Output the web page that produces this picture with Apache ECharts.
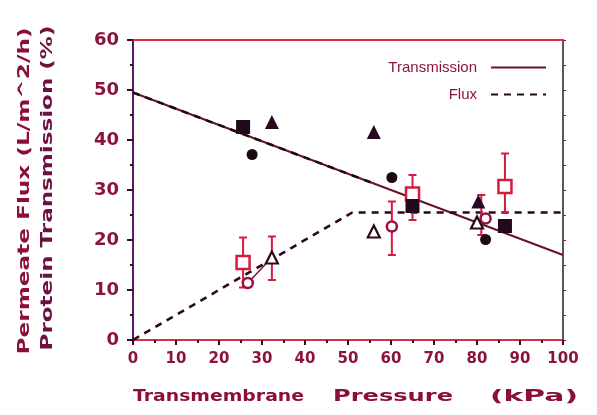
<!DOCTYPE html>
<html><head><meta charset="utf-8">
<script src="https://cdn.jsdelivr.net/npm/echarts@6/dist/echarts.min.js"></script>
<style>html,body{margin:0;padding:0;background:#fff}#c{width:597px;height:415px}</style>
</head><body><div id="c"></div>
<script>
// ---- data ----
const xTicks = [0, 10, 20, 30, 40, 50, 60, 70, 80, 90, 100];
const yTicks = [0, 10, 20, 30, 40, 50, 60];
const transLine = [[0, 49.5], [100, 17]];
const transOverlay = [[0, 49.5], [56, 31.3]];
const fluxLine = [[0, 0], [51, 25.5], [100, 25.5]];
const fluxLink = [[26.7, 11.4], [32.3, 16.5]];
const transSquares = [[25.6, 42.6], [65, 26.8], [86.5, 22.8]];
const transCircles = [[27.7, 37.1], [60.2, 32.5], [82, 20.1]];
const transTriangles = [[32.3, 43.6], [56, 41.6], [80.3, 27.7]];
const fluxSquares = [[25.6, 15.5], [65, 29.2], [86.5, 30.7]];
const fluxCircles = [[26.7, 11.4], [60.2, 22.7], [82, 24.3]];
const fluxTriangles = [[32.3, 16.5], [56, 21.7], [80, 23.5]];
const errorBars = [[25.6, 10.5, 20.5], [32.3, 12, 20.7], [60.2, 17, 27.7], [65, 24, 33], [81, 21, 29], [86.5, 25.5, 37.3]];
const yTitle1 = 'Permeate Flux (L/m^2/h)';
const yTitle2 = 'Protein Transmission (%)';
const xTitleParts = ['Transmembrane', 'Pressure', '(kPa)'];

// ---- helpers ----
const ctx = document.createElement('canvas').getContext('2d');
function fit(text, font, target) {
  ctx.font = font;
  return target / ctx.measureText(text).width;
}
const titleFont = 'bold 16px "DejaVu Sans"';
const titleColor = '#8a1035';

const chart = echarts.init(document.getElementById('c'), null, {renderer: 'canvas'});
const darkRed = '#8b1538';
const openRed = '#d81b3c';

const xPositions = [[133, 304], [333, 453], [490, 578]];
const graphics = [
  {type: 'text', x: 25, y: 191, rotation: Math.PI / 2, scaleX: fit(yTitle1, titleFont, 327), scaleY: 1,
   style: {text: yTitle1, font: titleFont, fill: titleColor, textAlign: 'center', textVerticalAlign: 'middle'}},
  {type: 'text', x: 48, y: 188, rotation: Math.PI / 2, scaleX: fit(yTitle2, titleFont, 325), scaleY: 1,
   style: {text: yTitle2, font: titleFont, fill: '#6e1040', textAlign: 'center', textVerticalAlign: 'middle'}}
];
xTitleParts.forEach((t, i) => {
  const [a, b] = xPositions[i];
  graphics.push({type: 'text', x: (a + b) / 2, y: 397, scaleX: fit(t, titleFont, b - a), scaleY: 1,
    style: {text: t, font: titleFont, fill: titleColor, textAlign: 'center', textVerticalAlign: 'middle'}});
});

function errRender(params, api) {
  const x = api.value(0), lo = api.value(1), hi = api.value(2);
  const p1 = api.coord([x, lo]), p2 = api.coord([x, hi]);
  const w = 4;
  const st = {stroke: openRed, lineWidth: 2, fill: null};
  return {type: 'group', children: [
    {type: 'line', shape: {x1: p1[0], y1: p1[1], x2: p2[0], y2: p2[1]}, style: st},
    {type: 'line', shape: {x1: p1[0] - w, y1: p1[1], x2: p1[0] + w, y2: p1[1]}, style: st},
    {type: 'line', shape: {x1: p2[0] - w, y1: p2[1], x2: p2[0] + w, y2: p2[1]}, style: st}
  ]};
}

const labelFont = {fontFamily: 'DejaVu Sans', fontWeight: 'bold', color: darkRed};

chart.setOption({
  animation: false,
  backgroundColor: '#fff',
  grid: {left: 133, right: 34, top: 40, bottom: 75, containLabel: false},
  legend: {
    data: ['Transmission', 'Flux'], orient: 'vertical', align: 'right', right: 45, top: 55,
    itemWidth: 55, itemHeight: 14, itemGap: 12,
    itemStyle: {opacity: 0, borderWidth: 0},
    textStyle: {fontFamily: 'Liberation Sans', fontSize: 15, color: darkRed, padding: [0, 9, 0, 0]}
  },
  xAxis: [
    {type: 'value', min: xTicks[0], max: xTicks[xTicks.length - 1], interval: xTicks[1] - xTicks[0], position: 'bottom',
     axisLine: {show: true, onZero: false, lineStyle: {color: '#e02a4a', width: 2}},
     axisTick: {show: true, inside: false, length: 5, lineStyle: {color: '#3a0a20', width: 2}},
     minorTick: {show: true, splitNumber: 2, length: 3, lineStyle: {color: '#3a0a20', width: 2}},
     axisLabel: Object.assign({fontSize: 15, margin: 12}, labelFont),
     splitLine: {show: false}},
    {type: 'value', min: xTicks[0], max: xTicks[xTicks.length - 1], position: 'top',
     axisLine: {show: true, onZero: false, lineStyle: {color: '#e02a4a', width: 2}}, axisTick: {show: false}, axisLabel: {show: false}, splitLine: {show: false}}
  ],
  yAxis: [
    {type: 'value', min: yTicks[0], max: yTicks[yTicks.length - 1], interval: yTicks[1] - yTicks[0], position: 'left',
     axisLine: {show: true, onZero: false, lineStyle: {color: '#5a1a6a', width: 2}},
     axisTick: {show: true, inside: false, length: 6, lineStyle: {color: '#3a0a20', width: 2}},
     minorTick: {show: true, splitNumber: 2, length: 3, lineStyle: {color: '#3a0a20', width: 2}},
     axisLabel: Object.assign({fontSize: 18, margin: 14}, labelFont),
     splitLine: {show: false}},
    {type: 'value', min: yTicks[0], max: yTicks[yTicks.length - 1], interval: 5, position: 'right',
     axisLine: {show: true, onZero: false, lineStyle: {color: '#202020', width: 1.5}},
     axisTick: {show: true, inside: false, length: 3, lineStyle: {color: '#8a1a4a'}},
     axisLabel: {show: false}, splitLine: {show: false}}
  ],
  graphic: graphics,
  series: [
    {name: 'Transmission', type: 'line', data: transLine, symbol: 'none', z: 3,
     lineStyle: {color: '#6a1428', width: 2, type: 'solid'}, itemStyle: {color: '#6a1428'}},
    {name: 'TransOverlay', type: 'line', data: transOverlay, symbol: 'none', z: 3,
     lineStyle: {color: '#1a0a14', width: 2.5, type: [7, 6]}},
    {name: 'Flux', type: 'line', data: fluxLine, symbol: 'none', z: 3,
     lineStyle: {color: '#2a0620', width: 2.6, type: [7, 6]}, itemStyle: {color: '#2a0620'}},
    {name: 'link', type: 'line', data: fluxLink, symbol: 'none', z: 3,
     lineStyle: {color: '#7a1a30', width: 1.5}},
    {name: 'err', type: 'custom', renderItem: errRender, data: errorBars, z: 4, encode: {x: 0, y: [1, 2]}},
    {name: 'fsq', type: 'scatter', data: fluxSquares, symbol: 'rect', symbolSize: 13, z: 5,
     itemStyle: {color: '#fff', borderColor: openRed, borderWidth: 2.5, opacity: 1}},
    {name: 'fci', type: 'scatter', data: fluxCircles, symbol: 'circle', symbolSize: 10, z: 5,
     itemStyle: {color: '#fff', borderColor: '#9a1040', borderWidth: 2.5, opacity: 1}},
    {name: 'ftr', type: 'scatter', data: fluxTriangles, symbol: 'triangle', symbolSize: 12, z: 5,
     itemStyle: {color: '#fff', borderColor: '#2a0a1a', borderWidth: 2.2, opacity: 1}},
    {name: 'tsq', type: 'scatter', data: transSquares, symbol: 'rect', symbolSize: 14, z: 6,
     itemStyle: {color: '#220a1c', opacity: 1}},
    {name: 'tci', type: 'scatter', data: transCircles, symbol: 'circle', symbolSize: 11, z: 6,
     itemStyle: {color: '#1a0a14', opacity: 1}},
    {name: 'ttr', type: 'scatter', data: transTriangles, symbol: 'triangle', symbolSize: 14, z: 6,
     itemStyle: {color: '#2a0a22', opacity: 1}}
  ]
});
</script></body></html>
